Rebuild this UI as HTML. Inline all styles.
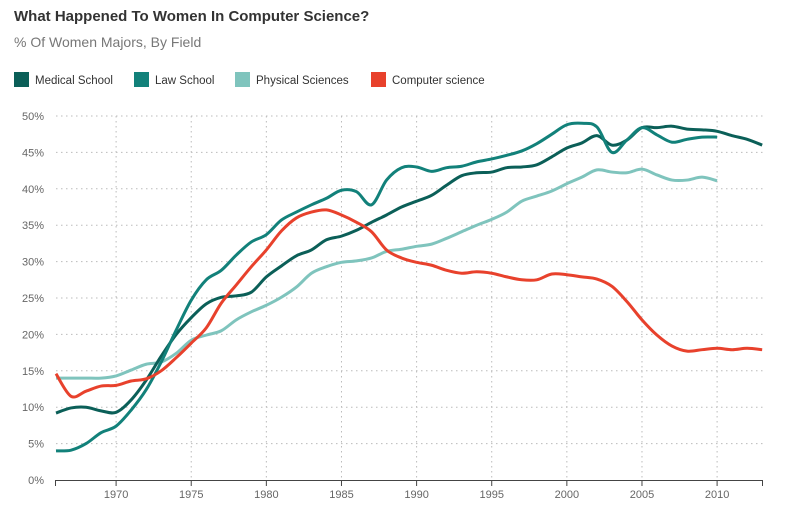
<!DOCTYPE html>
<html><head><meta charset="utf-8"><style>
body{margin:0;background:#fff;width:788px;height:514px;overflow:hidden;font-family:"Liberation Sans",sans-serif}
</style></head><body>
<svg width="788" height="514">
<text x="14" y="21" font-size="15" font-weight="bold" fill="#333">What Happened To Women In Computer Science?</text>
<text x="14" y="47" font-size="14" fill="#777">% Of Women Majors, By Field</text>
<g id="legend"></g>
<g id="grid"></g>
<g id="axes"></g>
<g id="lines"></g>
</svg>
<script>
const seriesNames=["Medical School","Law School","Physical Sciences","Computer science"];
const seriesColors=["#0b5f58","#12817a","#7fc4bd","#e8412c"];
const startYear=1966;
const medical=[9.2,9.9,10,9.5,9.3,11,13.7,17,20,22.3,24.2,25.1,25.3,25.8,27.9,29.4,30.8,31.6,33,33.5,34.3,35.4,36.4,37.5,38.3,39.1,40.5,41.8,42.2,42.3,42.9,43,43.3,44.4,45.6,46.3,47.3,46,46.7,48.4,48.4,48.6,48.2,48.1,47.9,47.3,46.8,46];
const law=[4,4.1,5,6.5,7.4,9.6,12.4,16.2,20.6,24.7,27.5,28.8,30.9,32.7,33.7,35.7,36.8,37.8,38.7,39.8,39.6,37.8,41.2,42.9,43,42.4,42.9,43.1,43.7,44.1,44.6,45.2,46.2,47.5,48.8,49,48.5,45,46.7,48.4,47.4,46.4,46.8,47.1,47.1];
const physical=[14,14,14,14,14.3,15.1,15.9,16.2,17.4,19.2,19.9,20.5,22,23.1,24,25.1,26.5,28.4,29.3,29.9,30.1,30.5,31.4,31.7,32.1,32.4,33.2,34.1,35,35.8,36.8,38.3,39,39.7,40.7,41.6,42.6,42.3,42.2,42.7,41.9,41.2,41.2,41.6,41.1];
const cs=[14.6,11.5,12.2,12.9,13,13.6,13.9,15,16.8,18.8,20.9,24.3,26.8,29.3,31.6,34.2,36,36.8,37.1,36.4,35.4,34.1,31.6,30.5,29.9,29.5,28.8,28.4,28.6,28.4,27.9,27.5,27.5,28.3,28.2,27.9,27.6,26.6,24.5,22,19.9,18.4,17.7,17.9,18.1,17.9,18.1,17.9];
const yTicks=[0,5,10,15,20,25,30,35,40,45,50];
const xTicks=[1970,1975,1980,1985,1990,1995,2000,2005,2010];
const NS="http://www.w3.org/2000/svg";
const X=yr=>56+(yr-1966)*15.025;
const Y=v=>480-v*7.28;
function mk(tag,attrs,parent){const e=document.createElementNS(NS,tag);for(const k in attrs)e.setAttribute(k,attrs[k]);parent.appendChild(e);return e;}
const legend=document.getElementById('legend'),grid=document.getElementById('grid'),axes=document.getElementById('axes'),lines=document.getElementById('lines');
const legX=[14,134,235,371];
seriesNames.forEach((n,i)=>{
 const r=mk('rect',{x:legX[i],y:72,width:15,height:15,fill:seriesColors[i]},legend);
 
 
 const t=mk('text',{x:legX[i]+21,y:84,'font-size':11.5,fill:'#333'},legend);t.textContent=n;
 
 
});
yTicks.forEach(v=>{
 if(v>0){const l=mk('line',{x1:56,x2:763,y1:Y(v),y2:Y(v),stroke:'#bbb','stroke-dasharray':'1.5,3.5'},grid);
 
 }
 const t=mk('text',{x:44,y:Y(v)+4,'font-size':11,fill:'#666','text-anchor':'end'},axes);t.textContent=v+'%';
 
 
});
xTicks.forEach(yr=>{
 const l=mk('line',{x1:X(yr),x2:X(yr),y1:116,y2:480,stroke:'#bbb','stroke-dasharray':'1.5,3.5'},grid);
 
 
 mk('line',{x1:X(yr),x2:X(yr),y1:480,y2:486,stroke:'#444'},axes);
 const t=mk('text',{x:X(yr),y:498,'font-size':11,fill:'#666','text-anchor':'middle'},axes);t.textContent=yr;
 
 
});
const ax=mk('line',{x1:55,x2:763,y1:480.5,y2:480.5,stroke:'#444'},axes);


mk('line',{x1:55.5,x2:55.5,y1:480,y2:486,stroke:'#444'},axes);
mk('line',{x1:762.5,x2:762.5,y1:480,y2:486,stroke:'#444'},axes);
function pathFor(vals){
 const p=vals.map((v,i)=>[X(startYear+i),Y(v)]);
 let d='M'+p[0][0]+','+p[0][1];
 for(let i=0;i<p.length-1;i++){
  const p0=p[i-1]||p[i],p1=p[i],p2=p[i+1],p3=p[i+2]||p2;
  const c1=[p1[0]+(p2[0]-p0[0])/6,p1[1]+(p2[1]-p0[1])/6];
  const c2=[p2[0]-(p3[0]-p1[0])/6,p2[1]-(p3[1]-p1[1])/6];
  d+=' C'+c1+' '+c2+' '+p2;
 }
 return d;
}
const allSeries=[medical,law,physical,cs];
const lineNames=['medical-school-line','law-school-line','physical-sciences-line','computer-science-line'];
[2,0,1,3].forEach(i=>{
 const pth=mk('path',{d:pathFor(allSeries[i]),fill:'none',stroke:seriesColors[i],'stroke-width':3,'stroke-linejoin':'round'},lines);
 
 
});
</script>
</body></html>
